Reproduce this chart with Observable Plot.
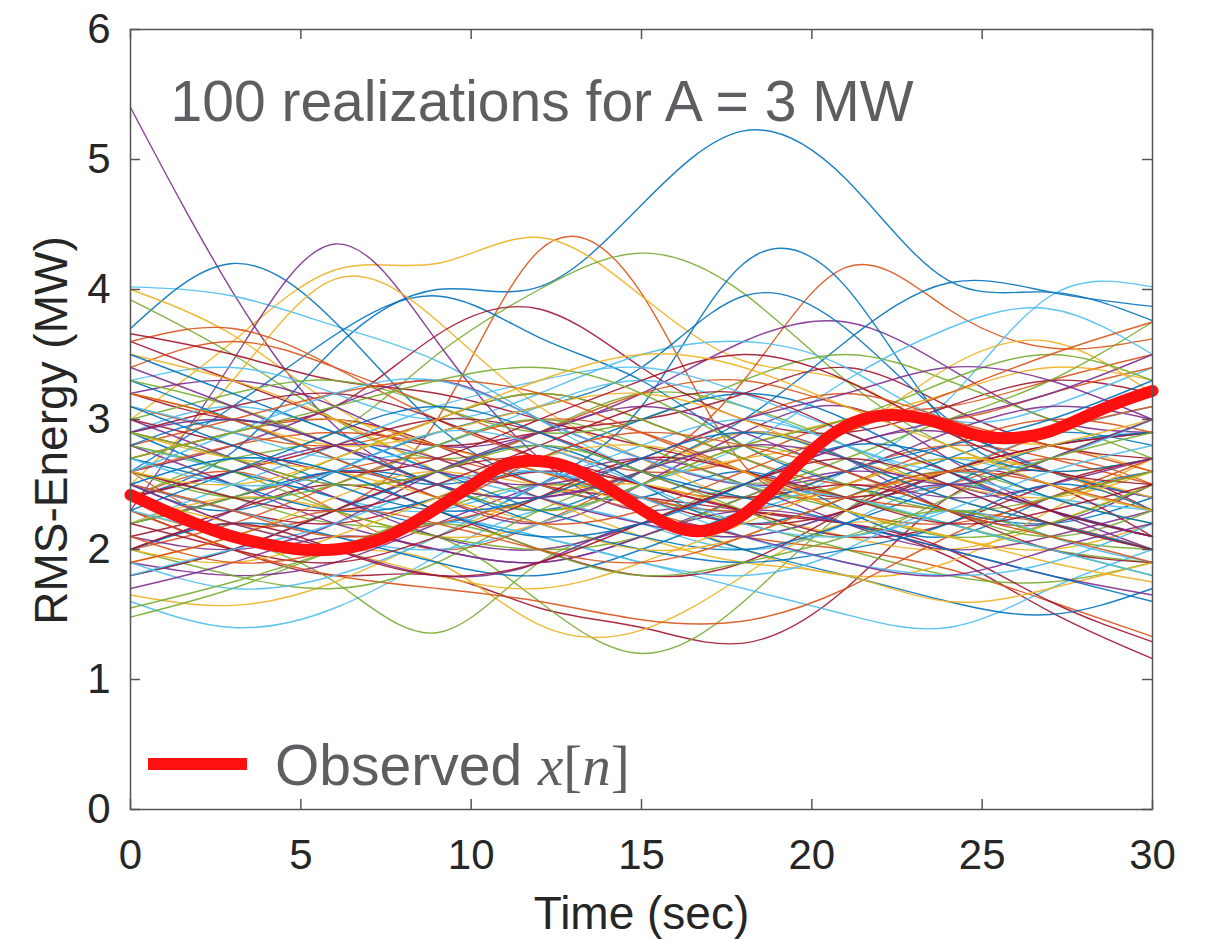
<!DOCTYPE html>
<html>
<head>
<meta charset="utf-8">
<script src="https://cdn.jsdelivr.net/npm/d3@7"></script>
<script src="https://cdn.jsdelivr.net/npm/@observablehq/plot@0.6"></script>
<style>
  html, body { margin: 0; padding: 0; background: white; }
  #wrap { position: relative; width: 1208px; height: 939px; }
  #legend-bar { position: absolute; left: 148px; top: 758px; width: 99px; height: 12px; background: #ff1010; }
  #legend-text { position: absolute; left: 275px; top: 737px; font: 57px "Liberation Sans", Arial, sans-serif; line-height: 57px; color: #5e5e62; white-space: nowrap; }
  #legend-text .m { font-family: "Liberation Serif", "DejaVu Serif", serif; }
  #legend-text .i { font-style: italic; }
</style>
</head>
<body>
<div id="wrap">
  <div id="chart"></div>
  <div id="legend-bar"></div>
  <div id="legend-text">Observed <span class="m"><span class="i">x</span>[<span class="i">n</span>]</span></div>
</div>
<script>
const titleText = "100 realizations for A = 3 MW";
const xLabel = "Time (sec)";
const yLabel = "RMS-Energy (MW)";
const xTicks = [0, 5, 10, 15, 20, 25, 30];
const yTicks = [0, 1, 2, 3, 4, 5, 6];
const palette = ["#0072BD", "#D95319", "#EDB120", "#7E2F8E", "#77AC30", "#4DBEEE", "#A2142F"];

// sample times (sec) of each realization
const times = [0, 3, 6, 9, 12, 15, 18, 21, 24, 27, 30];

// 100 realizations, values in MW at the sample times
const realizations = [
  [2.4, 2.75, 3.55, 4.0, 4.02, 4.65, 5.22, 4.85, 4.07, 3.98, 3.76],
  [2.6, 2.2, 2.3, 3.0, 4.3, 3.97, 2.65, 2.4, 2.5, 2.7, 2.5],
  [3.0, 3.6, 4.15, 4.2, 4.4, 3.95, 3.45, 3.3, 2.9, 2.8, 2.6],
  [5.4, 3.98, 2.95, 2.5, 2.4, 2.6, 2.9, 2.7, 2.3, 2.2, 2.5],
  [2.4, 2.7, 2.9, 3.5, 4.0, 4.28, 3.97, 3.3, 2.8, 2.6, 2.7],
  [4.02, 3.95, 3.72, 3.45, 3.0, 2.6, 2.4, 2.5, 2.7, 2.5, 2.3],
  [2.3, 2.0, 1.8, 1.8, 1.55, 1.4, 1.28, 1.7, 2.4, 2.6, 2.3],

  [3.7, 4.2, 3.75, 2.95, 2.5, 2.4, 2.6, 2.3, 2.1, 2.4, 2.6],
  [2.4, 2.6, 2.3, 2.0, 2.2, 2.6, 3.3, 4.17, 3.85, 3.55, 3.62],
  [4.0, 3.65, 3.1, 2.7, 2.5, 2.6, 2.9, 2.7, 2.4, 2.2, 2.0],
  [2.3, 3.45, 4.35, 3.6, 2.7, 2.3, 2.5, 2.8, 2.9, 2.6, 2.4],
  [3.92, 3.5, 3.0, 2.7, 2.9, 3.2, 3.1, 2.8, 2.5, 2.7, 3.0],
  [1.6, 1.4, 1.55, 1.95, 2.3, 2.2, 2.0, 2.2, 2.5, 2.3, 2.1],
  [2.7, 2.9, 3.0, 2.8, 2.5, 2.4, 2.3, 2.2, 1.95, 1.52, 1.16],

  [2.6, 3.1, 3.65, 3.95, 3.63, 3.3, 2.8, 2.5, 2.3, 2.2, 2.4],
  [2.2, 2.4, 2.6, 2.7, 2.5, 2.3, 2.1, 2.0, 1.85, 1.6, 1.33],
  [2.5, 3.3, 4.08, 3.76, 3.1, 2.7, 2.4, 2.5, 2.7, 2.6, 2.3],
  [3.2, 3.3, 3.1, 2.8, 2.9, 3.2, 3.6, 3.75, 3.4, 3.0, 2.9],
  [2.6, 2.4, 2.2, 2.1, 1.6, 1.2, 1.6, 2.3, 2.6, 2.4, 2.2],
  [2.8, 2.6, 2.4, 2.3, 2.5, 2.4, 2.3, 2.6, 3.15, 3.95, 4.02],
  [3.6, 3.3, 3.0, 2.8, 2.9, 3.0, 3.2, 3.4, 3.1, 2.8, 2.7],

  [2.9, 2.6, 2.4, 2.2, 2.5, 3.1, 4.2, 4.02, 2.95, 2.6, 2.7],
  [3.4, 3.6, 3.4, 3.1, 2.8, 2.6, 2.7, 3.0, 3.1, 3.3, 3.5],
  [2.3, 2.1, 2.0, 1.9, 1.42, 1.38, 1.8, 2.2, 2.1, 2.0, 2.2],
  [2.0, 2.3, 2.6, 2.4, 2.2, 2.5, 2.9, 3.1, 2.7, 2.3, 2.0],
  [2.4, 2.1, 1.75, 1.36, 1.9, 2.2, 2.5, 2.4, 2.2, 2.0, 1.9],
  [2.5, 2.7, 2.6, 2.3, 2.1, 1.9, 1.7, 1.5, 1.4, 1.7, 2.0],
  [3.2, 3.0, 3.1, 3.65, 3.85, 3.4, 3.0, 2.9, 3.1, 3.3, 3.2],

  [2.2, 2.4, 2.6, 2.5, 2.3, 2.6, 3.0, 3.6, 4.05, 3.98, 3.87],
  [3.6, 3.7, 3.4, 3.0, 2.7, 2.5, 2.4, 2.6, 2.8, 2.7, 2.5],
  [1.65, 1.57, 1.75, 2.1, 2.4, 2.5, 2.3, 2.1, 2.0, 2.2, 2.5],
  [2.8, 2.5, 2.2, 2.0, 1.9, 2.1, 2.4, 2.6, 2.5, 2.3, 2.1],
  [1.48, 1.7, 2.0, 2.3, 2.5, 2.4, 2.2, 2.0, 1.8, 1.75, 1.9],
  [3.3, 3.4, 3.2, 3.0, 3.2, 3.5, 3.6, 3.4, 3.0, 3.1, 3.4],
  [3.66, 3.5, 3.3, 3.2, 3.0, 2.8, 2.6, 2.4, 2.6, 2.8, 2.9],

  [2.5, 2.3, 2.6, 2.9, 3.1, 3.4, 3.95, 3.7, 3.0, 2.6, 2.4],
  [2.9, 2.7, 2.5, 2.6, 2.9, 3.2, 3.3, 3.1, 3.0, 3.2, 3.4],
  [2.7, 2.9, 3.0, 2.8, 2.6, 2.3, 2.0, 1.8, 1.9, 2.3, 2.7],
  [1.9, 1.8, 1.9, 2.2, 2.5, 2.7, 2.5, 2.2, 2.0, 2.1, 2.3],
  [3.0, 3.2, 3.3, 3.1, 2.9, 3.0, 3.3, 3.5, 3.3, 3.0, 2.7],
  [2.2, 2.5, 2.8, 3.1, 3.3, 3.4, 3.2, 2.9, 2.6, 2.4, 2.3],
  [2.1, 2.3, 2.5, 2.3, 2.0, 1.8, 1.9, 2.3, 2.6, 2.5, 2.1],

  [1.8, 2.0, 2.3, 2.6, 2.8, 2.5, 2.2, 2.4, 2.7, 2.9, 2.8],
  [2.3, 2.0, 1.8, 1.7, 1.6, 1.46, 1.45, 1.7, 2.1, 2.4, 2.6],
  [3.5, 3.3, 3.0, 2.6, 2.3, 2.5, 2.8, 3.0, 3.2, 3.4, 3.3],
  [2.6, 2.8, 3.1, 3.3, 3.0, 2.7, 2.5, 2.6, 2.9, 3.1, 3.0],
  [2.0, 1.8, 1.7, 1.9, 2.3, 2.6, 2.8, 2.6, 2.3, 2.1, 2.3],
  [2.9, 3.1, 2.9, 2.6, 2.4, 2.2, 2.1, 2.3, 2.6, 2.9, 3.1],
  [2.5, 2.3, 2.2, 2.4, 2.6, 2.5, 2.3, 2.2, 2.0, 1.6, 1.29],

  [3.3, 3.0, 2.7, 2.5, 2.7, 3.0, 3.2, 3.0, 2.6, 2.3, 2.1],
  [2.0, 2.2, 2.5, 2.8, 3.0, 2.9, 2.6, 2.3, 2.2, 2.4, 2.7],
  [2.2, 2.4, 2.3, 2.1, 2.2, 2.5, 2.7, 2.9, 3.4, 3.6, 3.2],
  [3.0, 2.7, 2.4, 2.1, 2.0, 2.2, 2.5, 2.8, 3.0, 3.2, 3.5],
  [2.8, 2.6, 2.3, 2.1, 2.0, 2.1, 2.4, 2.7, 3.0, 3.3, 3.75],
  [2.5, 2.3, 2.1, 2.0, 2.2, 2.5, 2.8, 3.3, 3.7, 3.85, 3.5],
  [1.8, 2.0, 2.3, 2.6, 2.7, 2.5, 2.3, 2.1, 2.2, 2.5, 2.7],

  [2.7, 2.5, 2.3, 2.4, 2.6, 2.3, 2.0, 1.8, 1.6, 1.5, 1.7],
  [3.1, 2.9, 2.8, 3.0, 3.2, 3.0, 2.7, 2.5, 2.6, 2.9, 3.1],
  [1.9, 2.1, 2.4, 2.6, 2.4, 2.1, 1.9, 1.8, 1.6, 1.7, 1.9],
  [2.4, 2.6, 2.8, 2.7, 2.4, 2.2, 2.1, 2.3, 2.5, 2.3, 2.1],
  [3.3, 3.1, 2.8, 2.5, 2.3, 2.5, 2.8, 3.0, 3.3, 3.5, 3.3],
  [1.9, 1.7, 1.8, 2.1, 2.5, 2.8, 3.0, 2.8, 2.5, 2.2, 2.0],
  [2.9, 3.1, 3.2, 3.0, 2.7, 2.4, 2.2, 2.3, 2.6, 2.8, 2.9],

  [3.5, 3.2, 2.9, 2.6, 2.3, 2.1, 2.0, 2.2, 2.5, 2.8, 2.9],
  [2.6, 2.8, 2.9, 2.8, 2.6, 2.4, 2.3, 2.5, 2.8, 3.0, 2.9],
  [2.4, 2.2, 2.0, 1.8, 1.7, 1.9, 2.2, 2.5, 2.7, 2.6, 2.4],
  [2.1, 2.0, 2.2, 2.6, 2.9, 3.1, 2.9, 2.6, 2.4, 2.5, 2.7],
  [2.2, 2.4, 2.7, 3.0, 3.2, 3.0, 2.7, 2.4, 2.2, 2.0, 1.8],
  [3.1, 2.9, 2.7, 2.8, 3.1, 3.3, 3.1, 2.8, 2.6, 2.7, 3.0],
  [2.4, 2.6, 2.8, 3.0, 2.9, 2.6, 2.4, 2.5, 2.3, 2.0, 1.9],

  [2.0, 2.2, 2.1, 1.9, 1.8, 2.0, 2.3, 2.6, 2.8, 3.0, 3.3],
  [2.8, 3.0, 3.2, 3.3, 3.2, 2.9, 2.6, 2.4, 2.3, 2.2, 2.0],
  [3.2, 3.0, 2.8, 2.9, 3.1, 3.2, 3.0, 2.7, 2.5, 2.4, 2.6],
  [1.7, 1.9, 2.1, 2.0, 1.9, 2.1, 2.3, 2.2, 2.0, 1.8, 1.65],
  [2.6, 2.4, 2.5, 2.8, 3.0, 2.8, 2.5, 2.3, 2.1, 2.2, 2.5],
  [2.3, 2.1, 2.0, 2.2, 2.1, 1.9, 1.8, 2.0, 2.3, 2.1, 1.9],
  [3.0, 2.8, 2.6, 2.7, 3.0, 3.3, 3.5, 3.3, 2.9, 2.6, 2.5],

  [2.8, 3.0, 2.8, 2.5, 2.2, 2.0, 1.9, 2.0, 2.2, 2.5, 2.3],
  [2.5, 2.3, 2.1, 2.2, 2.4, 2.7, 3.0, 3.2, 3.0, 2.8, 2.6],
  [2.9, 2.7, 2.6, 2.4, 2.2, 2.0, 2.1, 2.4, 2.6, 2.8, 3.0],
  [3.4, 3.1, 2.8, 2.6, 2.5, 2.7, 3.0, 3.2, 3.4, 3.3, 3.0],
  [1.55, 1.75, 2.0, 2.2, 2.0, 1.8, 1.9, 2.1, 2.3, 2.1, 2.0],
  [2.6, 2.9, 3.2, 3.3, 3.0, 2.7, 2.5, 2.4, 2.2, 2.0, 1.8],
  [2.2, 2.0, 1.9, 2.1, 2.4, 2.7, 2.6, 2.4, 2.2, 2.3, 2.5],

  [2.3, 2.6, 2.9, 3.1, 2.9, 2.6, 2.4, 2.2, 2.0, 1.8, 1.6],
  [3.2, 3.0, 2.7, 2.4, 2.2, 2.3, 2.6, 2.9, 3.2, 3.5, 3.75],
  [2.0, 1.9, 2.1, 2.4, 2.7, 2.8, 2.6, 2.3, 2.1, 1.9, 1.75],
  [2.9, 3.0, 2.8, 2.5, 2.4, 2.6, 2.8, 2.7, 2.5, 2.7, 3.0],
  [2.7, 2.9, 3.1, 3.3, 3.4, 3.2, 2.8, 2.5, 2.3, 2.4, 2.6],
  [1.8, 2.0, 2.2, 2.5, 2.6, 2.4, 2.1, 1.9, 1.8, 1.9, 2.2],
  [2.6, 2.4, 2.3, 2.5, 2.8, 3.1, 3.2, 2.9, 2.6, 2.3, 2.1],

  [3.1, 2.8, 2.5, 2.3, 2.4, 2.7, 2.9, 2.7, 2.4, 2.2, 2.0],
  [1.9, 2.1, 2.3, 2.2, 2.0, 1.9, 2.1, 2.4, 2.6, 2.5, 2.3],
  [2.6, 2.5, 2.7, 3.0, 3.3, 3.5, 3.4, 3.1, 2.8, 2.5, 2.3],
  [2.5, 2.2, 2.0, 1.8, 1.9, 2.2, 2.1, 1.9, 1.8, 2.0, 2.2],
  [2.9, 2.7, 2.5, 2.6, 2.8, 2.6, 2.3, 2.1, 2.4, 2.7, 2.9],
  [2.7, 2.5, 2.6, 2.9, 2.8, 2.5, 2.2, 2.1, 2.3, 2.6, 2.8],
  [2.0, 2.2, 2.0, 1.8, 1.9, 2.2, 2.5, 2.7, 2.5, 2.2, 2.0],

  [2.5, 2.7, 2.6, 2.3, 2.1, 2.2, 2.5, 2.8, 2.7, 2.4, 2.2],
  [2.1, 1.9, 2.0, 2.3, 2.7, 2.9, 2.8, 2.6, 2.3, 2.1, 1.9]
];

// observed x[n]
const obsTimes = [0,1,2,3,4,5,6,7,8,9,10,11,12,13,14,15,16,17,18,19,20,21,22,23,24,25,26,27,28,29,30];
const obsValues = [2.42,2.30,2.19,2.10,2.04,2.00,2.00,2.05,2.16,2.32,2.49,2.65,2.68,2.62,2.48,2.31,2.17,2.15,2.27,2.50,2.76,2.95,3.03,3.02,2.95,2.87,2.86,2.91,3.02,3.13,3.22];

const rows = realizations.flatMap((vals, run) => vals.map((v, i) => ({run, t: times[i], v})));
const obs = obsTimes.map((t, i) => ({t, v: obsValues[i]}));

const W = 1208, H = 939, mL = 130, mR = 56, mT = 29, mB = 130;
const fw = W - mL - mR, fh = H - mT - mB;
const axisColor = "#555555";

const chart = Plot.plot({
  width: W, height: H,
  marginLeft: mL, marginRight: mR, marginTop: mT, marginBottom: mB,
  style: {fontFamily: "'Liberation Sans', Arial, sans-serif", fontSize: "42px", color: "#262626", background: "white", overflow: "visible"},
  x: {domain: [0, 30], ticks: xTicks, tickFormat: d => String(d), tickSize: 0, tickPadding: 30, label: null},
  y: {domain: [0, 6], ticks: yTicks, tickFormat: d => String(d), tickSize: 0, tickPadding: 20, label: null},
  color: {type: "ordinal", domain: d3.range(7), range: palette},
  marks: [
    Plot.line(rows, {x: "t", y: "v", z: "run", stroke: d => d.run % 7, strokeWidth: 1.4, strokeOpacity: 0.9, curve: "natural"}),
    Plot.line(obs, {x: "t", y: "v", stroke: "#ff1010", strokeWidth: 12, curve: "natural"}),
    Plot.frame({stroke: axisColor, strokeWidth: 1.5}),
    Plot.ruleX(xTicks, {x: d => d, insetTop: fh - 10, stroke: axisColor, strokeWidth: 1.5}),
    Plot.ruleX(xTicks, {x: d => d, insetBottom: fh - 10, stroke: axisColor, strokeWidth: 1.5}),
    Plot.ruleY(yTicks, {y: d => d, insetRight: fw - 10, stroke: axisColor, strokeWidth: 1.5}),
    Plot.ruleY(yTicks, {y: d => d, insetLeft: fw - 10, stroke: axisColor, strokeWidth: 1.5}),
    Plot.text([titleText], {text: d => d, frameAnchor: "top-left", dx: 40, dy: 91, lineAnchor: "bottom", textAnchor: "start", fontSize: 57, fill: "#5e5e62"}),
    Plot.text([xLabel], {text: d => d, frameAnchor: "bottom", dy: 119, lineAnchor: "bottom", textAnchor: "middle", fontSize: 46, fill: "#262626"}),
    Plot.text([yLabel], {text: d => d, frameAnchor: "left", dx: -78, dy: 11, rotate: -90, lineAnchor: "middle", textAnchor: "middle", fontSize: 46, fill: "#262626"})
  ]
});
document.getElementById("chart").appendChild(chart);
</script>
</body>
</html>
